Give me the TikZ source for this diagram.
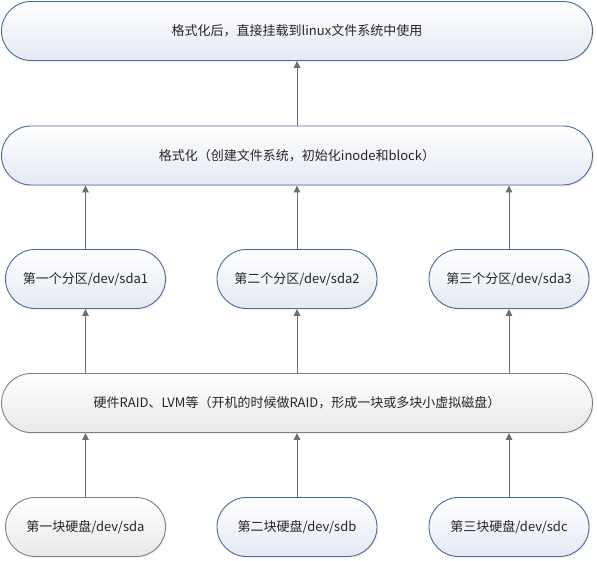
\documentclass[tikz,border=0pt]{standalone}
\usepackage{fontspec}
\setmainfont{Noto Sans CJK SC}
\usetikzlibrary{arrows.meta,shadows}
\definecolor{bluebd}{HTML}{4A6A9A}
\definecolor{bluebot}{HTML}{E4E9F3}
\definecolor{graybd}{HTML}{7F7F7F}
\definecolor{graybot}{HTML}{E9E9E9}
\definecolor{arrowc}{HTML}{6E6E6E}
\definecolor{txt}{HTML}{262626}
\tikzset{
  pill/.style={rounded corners=29.5pt, minimum height=59pt, inner sep=0pt,
     line width=0.9pt, font=\fontsize{13pt}{15pt}\selectfont, text=txt,
     drop shadow={opacity=0.15, shadow xshift=1.2pt, shadow yshift=-1.2pt}},
  bluepill/.style={pill, draw=bluebd, top color=white, bottom color=bluebot},
  graypill/.style={pill, draw=graybd, top color=white, bottom color=graybot},
  wide/.style={minimum width=591pt},
  small/.style={minimum width=160pt},
  up/.style={draw=arrowc, line width=1pt, -{Triangle[width=6.5pt,length=7pt]}}
}
\begin{document}
\begin{tikzpicture}[x=1pt,y=-1pt]
\useasboundingbox (0,0) rectangle (597,561);
\node[bluepill,wide] (top) at (297,31) {格式化后，直接挂载到linux文件系统中使用};
\node[bluepill,wide] (fmt) at (297,155.5) {格式化（创建文件系统，初始化inode和block）};
\node[bluepill,small] (p1) at (85.5,279) {第一个分区/dev/sda1};
\node[bluepill,small] (p2) at (297,279) {第二个分区/dev/sda2};
\node[bluepill,small] (p3) at (509,279) {第三个分区/dev/sda3};
\node[graypill,wide] (raid) at (297,403) {硬件RAID、LVM等（开机的时候做RAID，形成一块或多块小虚拟磁盘）};
\node[graypill,small] (d1) at (85.5,527) {第一块硬盘/dev/sda};
\node[bluepill,small] (d2) at (297,527) {第二块硬盘/dev/sdb};
\node[bluepill,small] (d3) at (509,527) {第三块硬盘/dev/sdc};
\draw[up] (fmt.north) -- (top.south);
\draw[up] (p1.north) -- (p1.north |- fmt.south);
\draw[up] (p2.north) -- (fmt.south);
\draw[up] (p3.north) -- (p3.north |- fmt.south);
\draw[up] (p1.north |- raid.north) -- (p1.south);
\draw[up] (p2.north |- raid.north) -- (p2.south);
\draw[up] (p3.north |- raid.north) -- (p3.south);
\draw[up] (d1.north) -- (d1.north |- raid.south);
\draw[up] (d2.north) -- (raid.south);
\draw[up] (d3.north) -- (d3.north |- raid.south);
\end{tikzpicture}
\end{document}
